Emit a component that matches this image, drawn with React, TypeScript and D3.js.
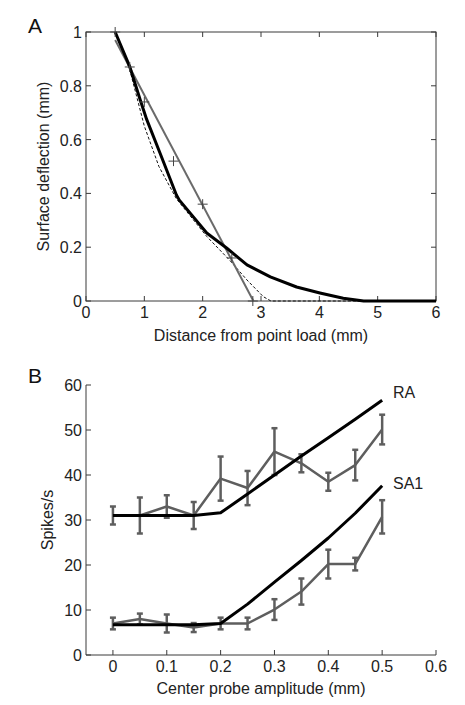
import React from "react";
import * as d3 from "d3";

// Panel A data
const markerX = [0.5, 0.75, 1.0, 1.5, 2.0, 2.5, 2.86];
const markerY = [1.0, 0.87, 0.74, 0.52, 0.36, 0.16, 0.0];
const fitX = [0.5, 2.87];
const fitY = [0.97, 0.0];
const solidX = [0.5, 0.75, 0.93, 1.04, 1.27, 1.55, 1.6, 2.07, 2.41, 2.76, 3.16, 3.61, 4.01, 4.41, 4.76, 6];
const solidY = [1.0, 0.871, 0.747, 0.675, 0.549, 0.394, 0.375, 0.253, 0.197, 0.134, 0.09, 0.052, 0.03, 0.01, 0, 0];
const dashX = [0.5, 0.75, 1.0, 1.25, 1.55, 2.07, 2.47, 2.76, 3.04, 3.17, 6];
const dashY = [1.0, 0.86, 0.65, 0.5, 0.38, 0.24, 0.15, 0.078, 0.016, 0, 0];
const xTicksA = [0, 1, 2, 3, 4, 5, 6];
const yTicksA = [0, 0.2, 0.4, 0.6, 0.8, 1];

// Panel B data
const amp = [0, 0.05, 0.1, 0.15, 0.2, 0.25, 0.3, 0.35, 0.4, 0.45, 0.5];
const raMean = [31, 31, 33, 31, 39.2, 37.1, 45.2, 42.6, 38.5, 42.2, 50.1];
const raErr = [2, 4, 2.5, 3, 4.9, 3.8, 5.2, 2, 2, 3.4, 3.3];
const raModel = [31, 31, 31, 31, 31.6, 35.8, 40, 44.2, 48.3, 52.4, 56.6];
const sa1Mean = [7, 8, 7, 6.1, 7, 7, 10.1, 14.1, 20.2, 20.2, 30.7];
const sa1Err = [1.3, 1.2, 2, 1, 1.3, 1.3, 2.3, 2.9, 3.2, 1.4, 3.7];
const sa1Model = [6.7, 6.7, 6.7, 6.7, 7.0, 11.3, 16.2, 21, 26, 31.5, 37.6];
const xTicksB = [0, 0.1, 0.2, 0.3, 0.4, 0.5, 0.6];
const yTicksB = [0, 10, 20, 30, 40, 50, 60];

const FONT = "'Liberation Sans', Arial, Helvetica, sans-serif";
const AX = "#3a3a3a";
const GREY = "#5e5e5e";

export default function App() {
  const xA = d3.scaleLinear().domain([0, 6]).range([86, 436]);
  const yA = d3.scaleLinear().domain([0, 1]).range([301, 32]);
  const xB = d3.scaleLinear().domain([-0.05, 0.6]).range([86, 436]);
  const yB = d3.scaleLinear().domain([0, 60]).range([655, 385]);

  const lineA = d3.line<[number, number]>().x((d) => xA(d[0])).y((d) => yA(d[1]));
  const lineB = d3.line<[number, number]>().x((d) => xB(d[0])).y((d) => yB(d[1]));
  const zip = (a: number[], b: number[]) => a.map((v, i) => [v, b[i]] as [number, number]);

  const tick = 5;

  return (
    <svg width={465} height={705} style={{ position: "absolute", left: 0, top: 0, background: "#fff" }} fontFamily={FONT}>
      <defs>
        <clipPath id="clipRight">
          <rect x={0} y={0} width={447} height={705} />
        </clipPath>
      </defs>
      {/* Panel A */}
      <text x={28} y={33} fontSize={21} fill="#111">A</text>
      <rect x={xA(0)} y={yA(1)} width={xA(6) - xA(0)} height={yA(0) - yA(1)} fill="none" stroke={AX} strokeWidth={1} />
      {xTicksA.map((t) => (
        <g key={"xa" + t}>
          <line x1={xA(t)} x2={xA(t)} y1={yA(0)} y2={yA(0) - tick} stroke={AX} />
          <line x1={xA(t)} x2={xA(t)} y1={yA(1)} y2={yA(1) + tick} stroke={AX} />
          <text x={xA(t)} y={yA(0) + 17} fontSize={16} textAnchor="middle" fill="#222">{t}</text>
        </g>
      ))}
      {yTicksA.map((t) => (
        <g key={"ya" + t}>
          <line x1={xA(0)} x2={xA(0) + tick} y1={yA(t)} y2={yA(t)} stroke={AX} />
          <line x1={xA(6)} x2={xA(6) - tick} y1={yA(t)} y2={yA(t)} stroke={AX} />
          <text x={82} y={yA(t) + 6} fontSize={16} textAnchor="end" fill="#222">{t}</text>
        </g>
      ))}
      <text x={261} y={341} fontSize={16} textAnchor="middle" fill="#222">Distance from point load (mm)</text>
      <text transform={`translate(49,${yA(0.5)}) rotate(-90)`} fontSize={16} textAnchor="middle" fill="#222">Surface deflection (mm)</text>

      <path d={lineA(zip(dashX, dashY)) || ""} fill="none" stroke="#111" strokeWidth={1} strokeDasharray="3,2" />
      <path d={lineA(zip(fitX, fitY)) || ""} fill="none" stroke="#6a6a6a" strokeWidth={2} />
      <path d={lineA(zip(solidX, solidY)) || ""} fill="none" stroke="#000" strokeWidth={3} strokeLinejoin="round" />
      {markerX.map((mx, i) => (
        <g key={"m" + i} stroke="#444" strokeWidth={1}>
          <line x1={xA(mx) - 5} x2={xA(mx) + 5} y1={yA(markerY[i])} y2={yA(markerY[i])} />
          <line x1={xA(mx)} x2={xA(mx)} y1={yA(markerY[i]) - 5} y2={yA(markerY[i]) + 5} />
        </g>
      ))}

      {/* Panel B */}
      <text x={28} y={383} fontSize={21} fill="#111">B</text>
      <line x1={xB(-0.05)} x2={xB(-0.05)} y1={yB(60)} y2={yB(0)} stroke={AX} />
      <line x1={xB(-0.05)} x2={xB(0.6)} y1={yB(0)} y2={yB(0)} stroke={AX} />
      {xTicksB.map((t) => (
        <g key={"xb" + t}>
          <line x1={xB(t)} x2={xB(t)} y1={yB(0)} y2={yB(0) - tick} stroke={AX} />
          <text x={xB(t)} y={yB(0) + 17} fontSize={16} textAnchor="middle" fill="#222" clipPath="url(#clipRight)">{t}</text>
        </g>
      ))}
      {yTicksB.map((t) => (
        <g key={"yb" + t}>
          <line x1={xB(-0.05)} x2={xB(-0.05) + tick} y1={yB(t)} y2={yB(t)} stroke={AX} />
          <text x={82} y={yB(t) + 6} fontSize={16} textAnchor="end" fill="#222">{t}</text>
        </g>
      ))}
      <text x={261} y={694} fontSize={16} textAnchor="middle" fill="#222">Center probe amplitude (mm)</text>
      <text transform={`translate(53,${yB(30)}) rotate(-90)`} fontSize={16} textAnchor="middle" fill="#222">Spikes/s</text>

      {[
        { mean: raMean, err: raErr, model: raModel, key: "ra" },
        { mean: sa1Mean, err: sa1Err, model: sa1Model, key: "sa" },
      ].map((s) => (
        <g key={s.key}>
          <path d={lineB(zip(amp, s.mean)) || ""} fill="none" stroke={GREY} strokeWidth={2.5} strokeLinejoin="round" />
          {amp.map((a, i) => (
            <g key={i} stroke={GREY} strokeWidth={2.5}>
              <line x1={xB(a)} x2={xB(a)} y1={yB(s.mean[i] - s.err[i])} y2={yB(s.mean[i] + s.err[i])} />
              <line x1={xB(a) - 3} x2={xB(a) + 3} y1={yB(s.mean[i] - s.err[i])} y2={yB(s.mean[i] - s.err[i])} />
              <line x1={xB(a) - 3} x2={xB(a) + 3} y1={yB(s.mean[i] + s.err[i])} y2={yB(s.mean[i] + s.err[i])} />
            </g>
          ))}
          <path d={lineB(zip(amp, s.model)) || ""} fill="none" stroke="#000" strokeWidth={3} strokeLinejoin="round" />
        </g>
      ))}
      <text x={393} y={398} fontSize={16} fill="#222">RA</text>
      <text x={393} y={489} fontSize={16} fill="#222">SA1</text>
    </svg>
  );
}
